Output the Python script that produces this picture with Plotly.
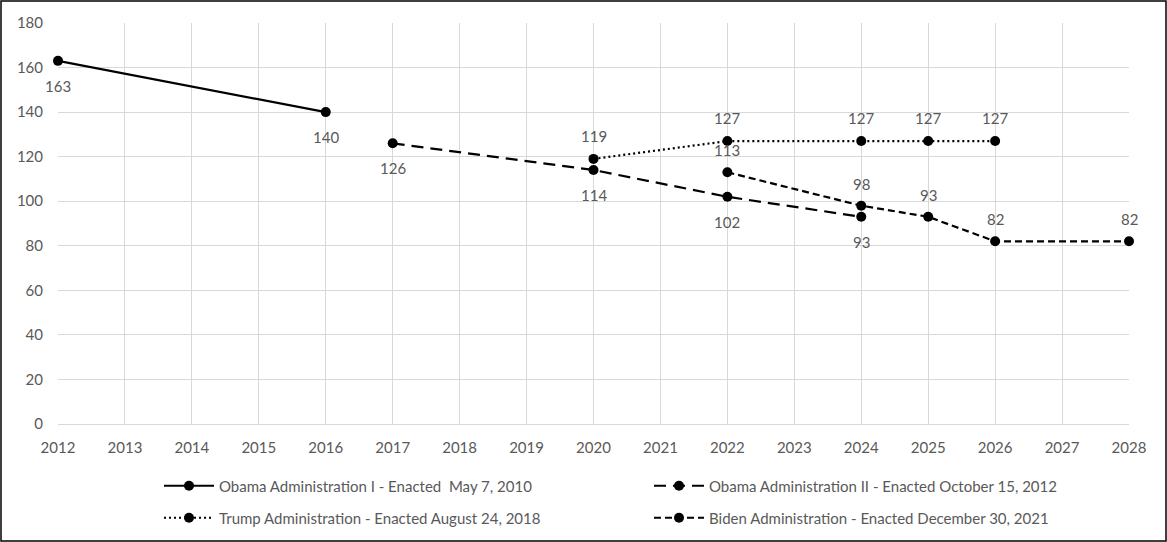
import plotly.graph_objects as go

years = list(range(2012, 2029))

obama1_x = [2012, 2016]
obama1_y = [163, 140]

obama2_x = [2017, 2020, 2022, 2024]
obama2_y = [126, 114, 102, 93]

trump_x = [2020, 2022, 2024, 2025, 2026]
trump_y = [119, 127, 127, 127, 127]

biden_x = [2022, 2024, 2025, 2026, 2028]
biden_y = [113, 98, 93, 82, 82]

names = [
    "Obama Administration I - Enacted  May 7, 2010",
    "Obama Administration II - Enacted October 15, 2012",
    "Trump Administration - Enacted August 24, 2018",
    "Biden Administration - Enacted December 30, 2021",
]

FONT = "Lato, Open Sans, sans-serif"
TXT = "#595959"
W, H = 1167, 542

fig = go.Figure()

def add(xs, ys, name, dash, shift, legend):
    fig.add_trace(go.Scatter(
        x=xs, y=ys, name=name, mode="lines+markers",
        line=dict(color="black", width=2.2, dash=dash),
        marker=dict(color="black", size=10),
        cliponaxis=False, legend=legend,
    ))
    for x, y in zip(xs, ys):
        fig.add_annotation(x=x, y=y, text=str(y), showarrow=False,
                           yshift=shift, font=dict(size=15, color=TXT, family=FONT))

add(obama1_x, obama1_y, names[0], "solid", -25, "legend")
add(obama2_x, obama2_y, names[1], "12px,7px", -25, "legend")
add(trump_x, trump_y, names[2], "2px,3px", 23, "legend2")
add(biden_x, biden_y, names[3], "7px,4px", 22, "legend2")

leg_common = dict(orientation="h", xref="container", yref="container",
                  x=159 / W, xanchor="left", yanchor="middle",
                  entrywidth=425, entrywidthmode="pixels",
                  font=dict(size=15, color=TXT, family=FONT),
                  bgcolor="rgba(0,0,0,0)", itemwidth=50)

fig.update_layout(
    width=W, height=H,
    margin=dict(l=58, r=38, t=23, b=118, autoexpand=False),
    paper_bgcolor="white", plot_bgcolor="white",
    font=dict(family=FONT, size=15, color=TXT),
    xaxis=dict(range=[2012, 2028], tickmode="array", tickvals=years,
               ticktext=[str(y) for y in years], showgrid=True,
               gridcolor="#d9d9d9", gridwidth=1, zeroline=False,
               showline=True, linecolor="#d9d9d9", ticks="",
               ticklabelstandoff=10,
               tickfont=dict(size=15, color=TXT)),
    yaxis=dict(range=[0, 180], dtick=20, showgrid=True, gridcolor="#d9d9d9",
               gridwidth=1, zeroline=False, showline=False, ticks="",
               ticklabelstandoff=14,
               tickfont=dict(size=15, color=TXT)),
    legend=dict(leg_common, y=1 - 486 / H),
    legend2=dict(leg_common, y=1 - 518 / H),
    showlegend=True,
)

fig.add_shape(type="rect", xref="paper", yref="paper",
              x0=(1 - 58) / 1071, x1=(1166 - 58) / 1071,
              y0=(424 - 541) / 401, y1=(424 - 1) / 401,
              line=dict(color="black", width=1.5), fillcolor="rgba(0,0,0,0)")

fig.write_html("out.html", config={"displayModeBar": False},
               post_script="document.body.style.margin='0';")
